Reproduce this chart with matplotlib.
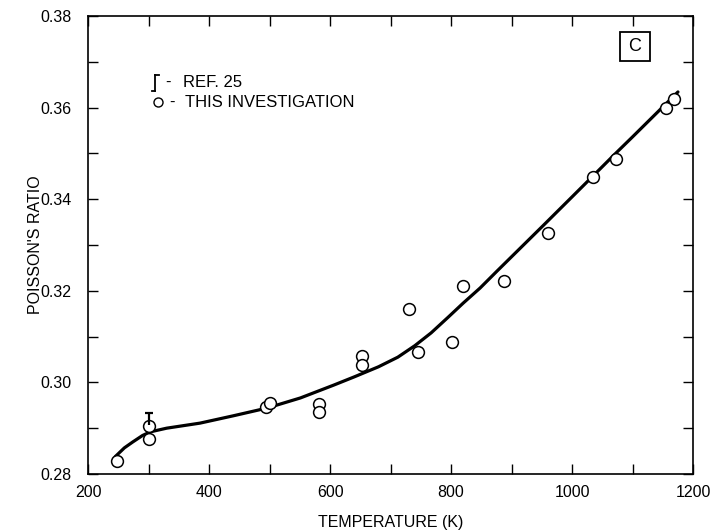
import matplotlib
matplotlib.use("Agg")
import matplotlib.pyplot as plt
from matplotlib.ticker import MultipleLocator
from matplotlib.patches import Rectangle

plt.rcParams['font.family'] = ['Liberation Sans', 'DejaVu Sans']

# Measured points (this investigation)
temp_pts = [248, 300, 300, 494, 500, 581, 581, 653, 653, 731, 745, 802, 820, 888, 961, 1034, 1072, 1155, 1168]
ratio_pts = [0.2828, 0.2905, 0.2876, 0.2946, 0.2955, 0.2953, 0.2935, 0.3058, 0.3038,
             0.3160, 0.3066, 0.3088, 0.3210, 0.3221, 0.3326, 0.3448, 0.3488, 0.3599, 0.3619]

# Ref. 25 range
ref_T = [300]
ref_lo = [0.2907]
ref_hi = [0.2933]

# Fitted curve
curve_T = [245, 260, 274, 290, 303, 330, 385, 440, 496, 551, 606, 640, 680, 712, 740,
           767, 795, 820, 848, 876, 952, 1000, 1041, 1069, 1100, 1175]
curve_v = [0.2838, 0.2857, 0.2870, 0.2884, 0.2892, 0.2900, 0.2911, 0.2927, 0.2944, 0.2966,
           0.2994, 0.3012, 0.3034, 0.3055, 0.3080, 0.3108, 0.3142, 0.3173, 0.3206, 0.3243,
           0.3342, 0.3405, 0.3459, 0.3496, 0.3536, 0.3634]

xticks = [200, 400, 600, 800, 1000, 1200]
yticks = [0.28, 0.30, 0.32, 0.34, 0.36, 0.38]

fig = plt.figure(figsize=(7.16, 5.30), dpi=100)
ax = fig.add_axes([0.123, 0.1057, 0.845, 0.8643])

ax.plot(curve_T, curve_v, color='black', lw=2.3, solid_capstyle='round',
        solid_joinstyle='round', zorder=2)
ax.plot(temp_pts, ratio_pts, linestyle='none', marker='o', ms=8.5, mfc='white',
        mec='black', mew=1.1, zorder=3)
ax.vlines(ref_T, ref_lo, ref_hi, color='black', lw=1.6, zorder=4)
ax.plot(ref_T, ref_hi, linestyle='none', marker='_', ms=6, mew=1.6, color='black', zorder=4)

ax.set_xlim(200, 1200)
ax.set_ylim(0.28, 0.38)
ax.set_xticks(xticks)
ax.set_yticks(yticks)
ax.set_xticklabels([str(t) for t in xticks])
ax.set_yticklabels([f"{t:.2f}" for t in yticks])
ax.xaxis.set_minor_locator(MultipleLocator(100))
ax.yaxis.set_minor_locator(MultipleLocator(0.01))
for which in ('major', 'minor'):
    ax.tick_params(axis='both', which=which, direction='in', length=7, width=1.0,
                   top=True, right=True)
ax.tick_params(axis='x', which='major', labelsize=11.5, pad=8)
ax.tick_params(axis='y', which='major', labelsize=11.5, pad=12)
for s in ax.spines.values():
    s.set_linewidth(1.2)

ax.set_xlabel("TEMPERATURE (K)", fontsize=11.5, labelpad=11)
ax.set_ylabel("POISSON'S RATIO", fontsize=11.5, labelpad=-2)

# Legend drawn as text
tr = ax.transAxes
ax.plot([0.111, 0.111], [0.836, 0.872], color='black', lw=1.3, transform=tr)
ax.plot([0.111, 0.117], [0.872, 0.872], color='black', lw=1.3, transform=tr)
ax.plot([0.105, 0.111], [0.836, 0.836], color='black', lw=1.3, transform=tr)
ax.text(0.127, 0.854, "-", transform=tr, fontsize=12, va='center', ha='left')
ax.text(0.157, 0.854, "REF. 25", transform=tr, fontsize=12, va='center', ha='left')
ax.plot([0.116], [0.812], marker='o', ms=6.5, mfc='white', mec='black', mew=1.0,
        transform=tr, linestyle='none')
ax.text(0.134, 0.812, "-", transform=tr, fontsize=12, va='center', ha='left')
ax.text(0.160, 0.812, "THIS INVESTIGATION", transform=tr, fontsize=12, va='center', ha='left')

# Panel label
ax.add_patch(Rectangle((0.880, 0.902), 0.048, 0.063, transform=tr, fill=False,
                       edgecolor='black', lw=1.3))
ax.text(0.904, 0.933, "C", transform=tr, fontsize=13, ha='center', va='center')

fig.savefig("out.png", dpi=100)
